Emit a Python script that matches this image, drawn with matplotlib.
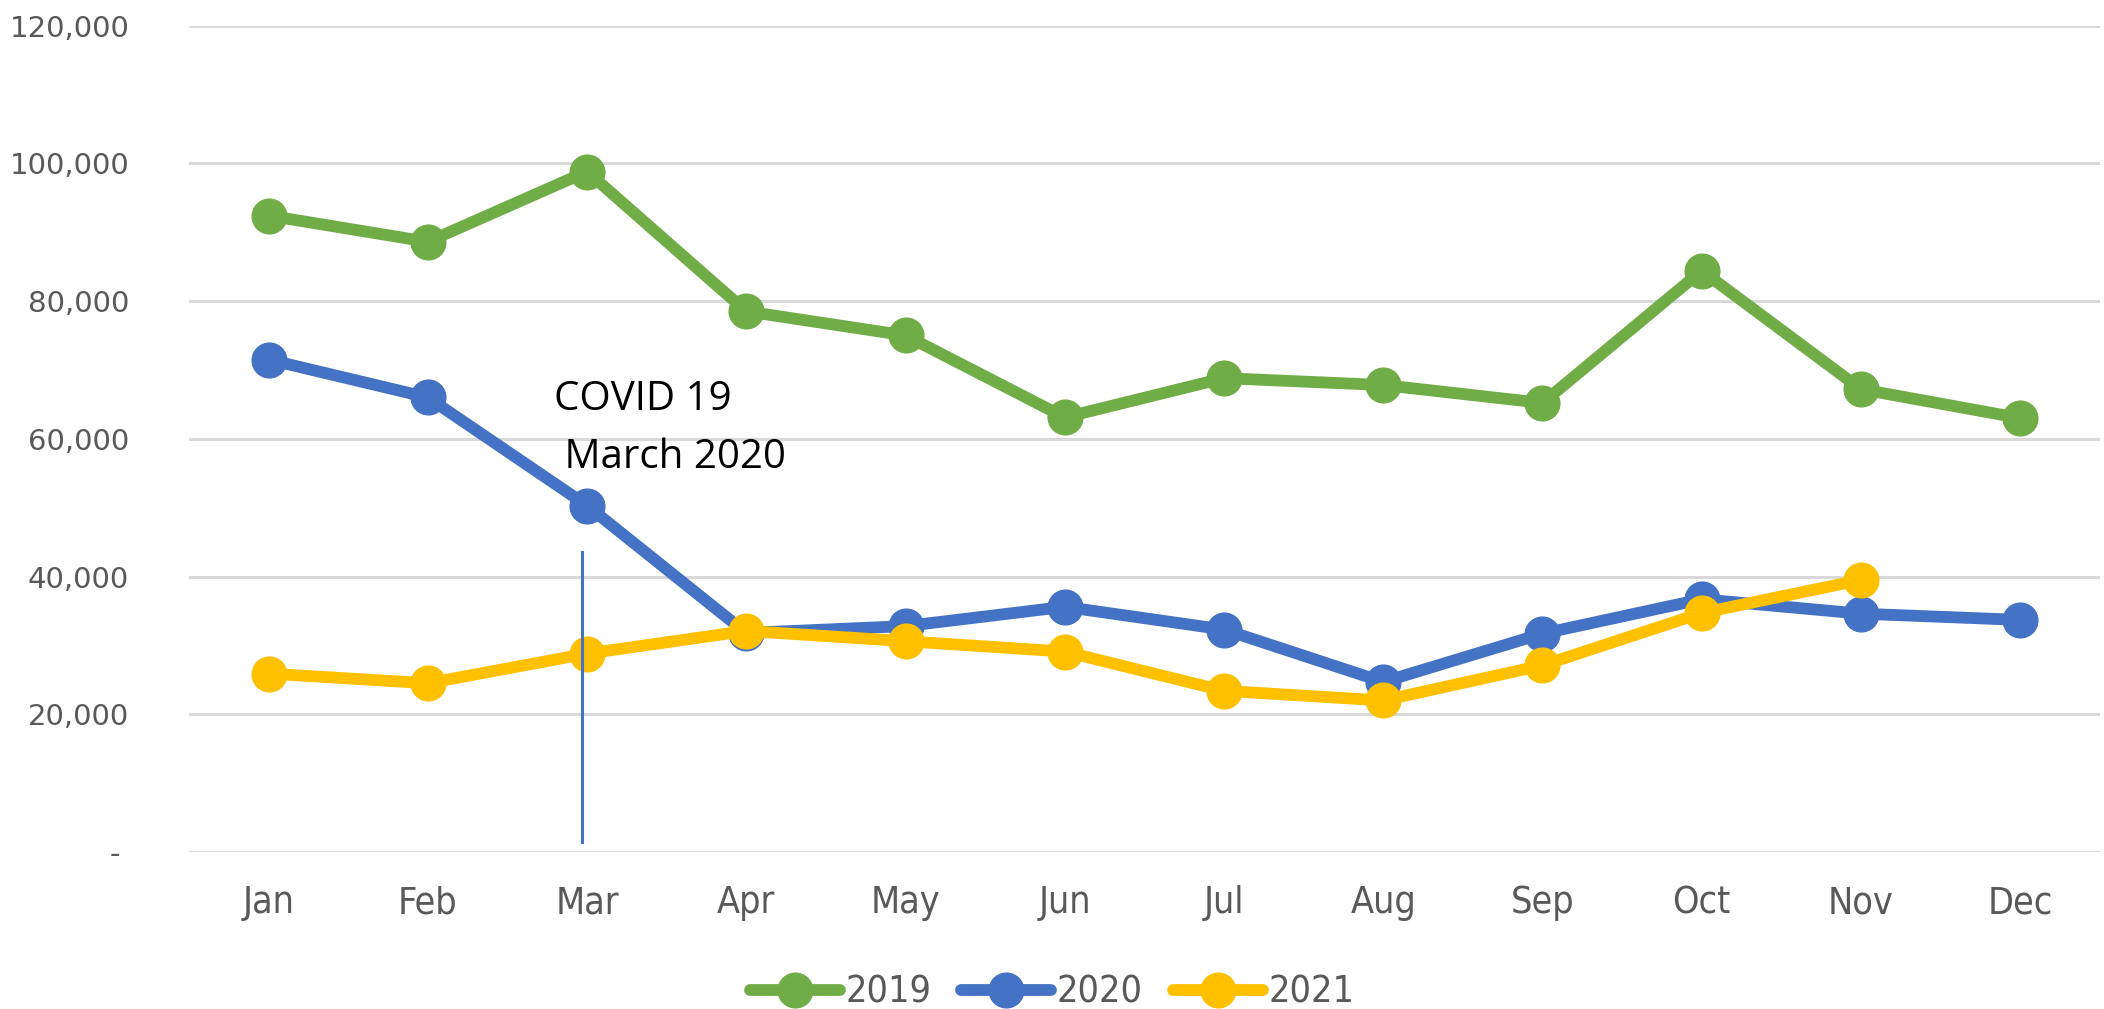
import matplotlib
matplotlib.use('Agg')
import matplotlib.pyplot as plt
from matplotlib.ticker import FuncFormatter

# ДАННЫЕ
months = ['Jan', 'Feb', 'Mar', 'Apr', 'May', 'Jun', 'Jul', 'Aug', 'Sep', 'Oct', 'Nov', 'Dec']
y2019 = [92400, 88600, 98800, 78500, 75000, 63100, 68800, 67800, 65200, 84400, 67200, 63000]
y2020 = [71500, 66000, 50300, 31800, 32800, 35600, 32300, 24700, 31700, 36700, 34600, 33700]
y2021 = [25900, 24500, 28800, 32100, 30600, 29100, 23400, 22000, 27100, 34700, 39500]
series_names = ['2019', '2020', '2021']
colors = ['#70AD47', '#4472C4', '#FFC000']
covid_x = 1.97
covid_y = (1400, 43600)
note_lines = ['COVID 19', ' March 2020']

narrow = ['DejaVu Sans']

fig = plt.figure(figsize=(21.04, 10.09), dpi=100)
ax = fig.add_axes([0.0898, 0.1556, 0.9082, 0.8191])

x = list(range(len(months)))
for vals, name, c in zip([y2019, y2020, y2021], series_names, colors):
    ax.plot(x[:len(vals)], vals, color=c, lw=8.5, marker='o', markersize=25,
            label=name, solid_capstyle='round', zorder=3)

# ЛИНИЯ COVID
ax.plot([covid_x, covid_x], covid_y, color='#4472C4', lw=2.2, zorder=4)
ax.text(1.79, 65600, note_lines[0], fontsize=29, family=['Open Sans', 'DejaVu Sans'],
        va='center', ha='left', color='black')
ax.text(1.79, 57300, note_lines[1], fontsize=29, family=['Open Sans', 'DejaVu Sans'],
        va='center', ha='left', color='black')

ax.set_xlim(-0.5, 11.5)
ax.set_ylim(0, 120000)
ax.set_yticks(range(0, 120001, 20000))
ax.yaxis.set_major_formatter(FuncFormatter(lambda v, p: '- ' if v == 0 else f'{int(v):,}'))
ax.set_xticks(x)
ax.set_xticklabels(months, family=narrow, fontstretch='condensed', fontsize=27, color='#595959')
for lbl in ax.get_yticklabels():
    lbl.set_fontsize(21)
    lbl.set_color('#595959')

ax.grid(axis='y', color='#D9D9D9', lw=2.2, zorder=0)
for s in ax.spines.values():
    s.set_visible(False)
ax.tick_params(axis='both', length=0)
ax.tick_params(axis='y', pad=43)
ax.tick_params(axis='x', pad=24)

fig.legend(loc='center', bbox_to_anchor=(0.5, 0.016), ncol=3, frameon=False,
           prop={'family': narrow, 'size': 27, 'stretch': 'condensed'}, labelcolor='#595959',
           handlelength=2.4, handletextpad=0.15, columnspacing=0.8)

fig.savefig('out.png', dpi=100)
